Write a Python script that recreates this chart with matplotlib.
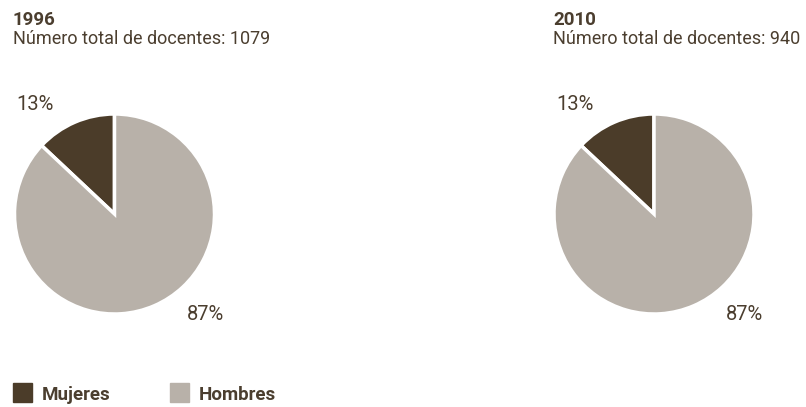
import matplotlib
matplotlib.use("Agg")
import matplotlib.pyplot as plt

years = ["1996", "2010"]
totals = [1079, 940]
categories = ["Mujeres", "Hombres"]
shares = [[13, 87], [13, 87]]
colors = ["#4b3c29", "#b8b1a9"]
text_color = "#4b3e2f"

W, H = 806, 407
fig = plt.figure(figsize=(W / 100, H / 100), dpi=100)
plt.rcParams['font.family'] = ['Roboto', 'DejaVu Sans']

centers_x = [114.5, 654]
cy = 214
R = 100
title_x = [13, 553]

def fx(px):
    return px / W

def fy(py):
    return 1 - py / H

for i, (yr, tot, vals) in enumerate(zip(years, totals, shares)):
    cx = centers_x[i]
    ax = fig.add_axes([fx(cx - R), fy(cy + R), 2 * R / W, 2 * R / H])
    ax.pie(vals, colors=colors, startangle=90, counterclock=True,
           wedgeprops=dict(edgecolor="white", linewidth=2.5))
    ax.set_xlim(-1, 1)
    ax.set_ylim(-1, 1)
    ax.set_aspect("auto")
    ax.axis("off")
    ax.text(-0.79, 1.095, f"{vals[0]}%", ha="center", va="center",
            fontsize=14.5, color=text_color, clip_on=False)
    ax.text(0.905, -1.01, f"{vals[1]}%", ha="center", va="center",
            fontsize=14.5, color=text_color, clip_on=False)
    fig.text(fx(title_x[i]), fy(25), yr, fontsize=13.5, fontweight="bold",
             color=text_color, ha="left", va="baseline")
    fig.text(fx(title_x[i]), fy(44), f"Número total de docentes: {tot}",
             fontsize=13, color=text_color, ha="left", va="baseline")

# legend
sq_x = [13, 170]
txt_x = [42, 199]
for c, col, sx, tx in zip(categories, colors, sq_x, txt_x):
    fig.patches.append(plt.Rectangle((fx(sx), fy(402)), 19 / W, 19 / H,
                                     transform=fig.transFigure, color=col))
    fig.text(fx(tx), fy(400), c, fontsize=13.5, fontweight="bold",
             color=text_color, ha="left", va="baseline")

fig.savefig("out.png", dpi=100)
